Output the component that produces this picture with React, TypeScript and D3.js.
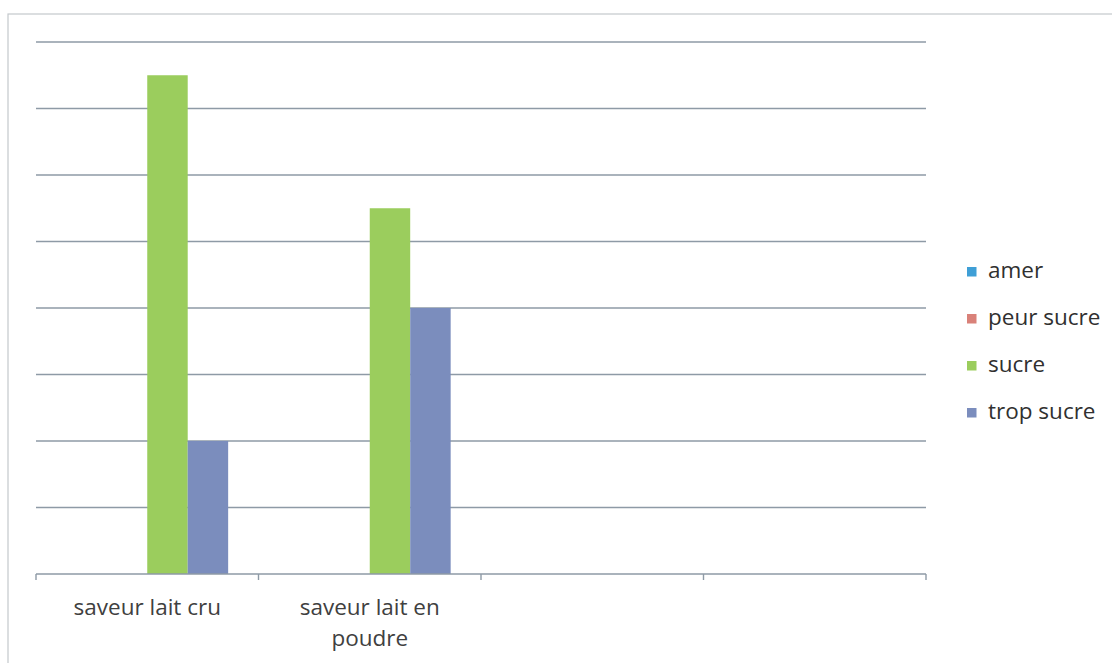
import React from "react";
import * as d3 from "d3";

const categories = ["saveur lait cru", "saveur lait en\npoudre", "", ""];
const seriesNames = ["amer", "peur sucre", "sucre", "trop sucre"];
const seriesColors = ["#3f9fd6", "#d98179", "#9bcd5d", "#7b8dbd"];
const amer = [0, 0, 0, 0];
const peurSucre = [0, 0, 0, 0];
const sucre = [7.5, 5.5, 0, 0];
const tropSucre = [2, 4, 0, 0];
const yTicks = [0, 1, 2, 3, 4, 5, 6, 7, 8];

const W = 1112;
const H = 663;
const plot = { left: 36, right: 926, top: 42, bottom: 574 };

export default function App() {
  const values = [amer, peurSucre, sucre, tropSucre];
  const x = d3
    .scaleBand<number>()
    .domain(d3.range(categories.length))
    .range([plot.left, plot.right]);
  const step = x.step();
  const barW = step / 5.5;
  const y = d3.scaleLinear().domain([0, 8]).range([plot.bottom, plot.top]);
  const font = "'Open Sans', sans-serif";

  return (
    <svg
      width={W}
      height={H}
      style={{ position: "absolute", left: 0, top: 0, background: "#fff" }}
    >
      <rect x={8} y={14} width={1200} height={700} fill="none" stroke="#c4c8cc" strokeWidth={1.2} />
      {yTicks.slice(1).map((t) => (
        <line
          key={t}
          x1={plot.left}
          x2={plot.right}
          y1={y(t)}
          y2={y(t)}
          stroke="#8e9aa6"
          strokeWidth={1.4}
        />
      ))}
      {values.map((vals, si) =>
        vals.map((v, ci) =>
          v > 0 ? (
            <rect
              key={`${si}-${ci}`}
              x={(x(ci) as number) + barW * 0.75 + si * barW}
              y={y(v)}
              width={barW}
              height={y(0) - y(v)}
              fill={seriesColors[si]}
            />
          ) : null
        )
      )}
      <line x1={plot.left} x2={plot.right} y1={y(0)} y2={y(0)} stroke="#8e9aa6" strokeWidth={1.4} />
      {d3.range(categories.length + 1).map((i) => {
        const xx = plot.left + i * step;
        return <line key={i} x1={xx} x2={xx} y1={y(0)} y2={y(0) + 6} stroke="#8e9aa6" strokeWidth={1.4} />;
      })}
      {categories.map((c, ci) => {
        const cx = (x(ci) as number) + step / 2;
        return (
          <text
            key={ci}
            x={cx}
            y={615}
            textAnchor="middle"
            fontFamily={font}
            fontSize={22.5}
            fill="#404040"
          >
            {c.split("\n").map((line, li) => (
              <tspan key={li} x={cx} dy={li === 0 ? 0 : 31}>
                {line}
              </tspan>
            ))}
          </text>
        );
      })}
      {seriesNames.map((n, i) => {
        const cy = 271.5 + i * 47;
        return (
          <g key={n}>
            <rect x={967} y={cy - 4.5} width={9.5} height={9.5} fill={seriesColors[i]} />
            <text x={988} y={cy + 6.5} fontFamily={font} fontSize={22.5} fill="#303030">
              {n}
            </text>
          </g>
        );
      })}
    </svg>
  );
}
